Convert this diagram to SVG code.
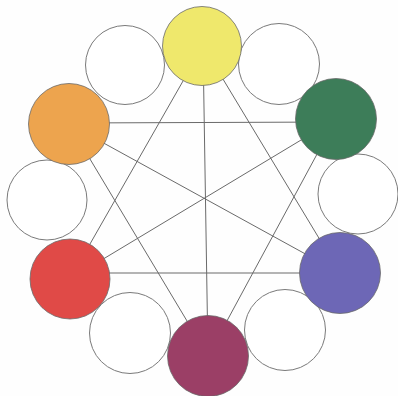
<svg xmlns="http://www.w3.org/2000/svg" width="398" height="396" viewBox="0 0 398 396">
<style>
.ln{stroke:#6a6a6a;stroke-width:1;fill:none}
.w{fill:#ffffff;stroke:#7a7a7a;stroke-width:1}
.c{stroke:#6a6a6a;stroke-width:0.8}
</style>
<rect width="398" height="396" fill="#fefefe"/>
<g id="connectors">
<line class="ln" x1="203" y1="46" x2="208" y2="356"/>
<line class="ln" x1="203" y1="46" x2="70" y2="279"/>
<line class="ln" x1="203" y1="46" x2="340" y2="273"/>
<line class="ln" x1="69" y1="123" x2="336" y2="122"/>
<line class="ln" x1="69" y1="124" x2="340" y2="273"/>
<line class="ln" x1="69" y1="124" x2="208" y2="356"/>
<line class="ln" x1="336" y1="119" x2="70" y2="279"/>
<line class="ln" x1="336" y1="119" x2="208" y2="356"/>
<line class="ln" x1="70" y1="273" x2="340" y2="273"/>
</g>
<g id="white-top-left"><circle class="w" cx="125" cy="65" r="39.5"/></g>
<g id="white-top-right"><circle class="w" cx="279" cy="64" r="40.5"/></g>
<g id="white-left"><circle class="w" cx="47" cy="200" r="40"/></g>
<g id="white-right"><circle class="w" cx="358" cy="194" r="40"/></g>
<g id="white-bottom-left"><circle class="w" cx="130" cy="333" r="40.5"/></g>
<g id="white-bottom-right"><circle class="w" cx="285" cy="330" r="40.5"/></g>
<g id="yellow"><circle class="c" cx="202" cy="46" r="39.5" fill="#efe86c"/></g>
<g id="green"><circle class="c" cx="336" cy="119" r="40.5" fill="#3d7d59"/></g>
<g id="orange"><circle class="c" cx="69" cy="124" r="40.5" fill="#eda44e"/></g>
<g id="red"><circle class="c" cx="70" cy="279" r="40" fill="#e04a47"/></g>
<g id="blue"><circle class="c" cx="340" cy="273" r="40.5" fill="#6d67b6"/></g>
<g id="purple"><circle class="c" cx="208" cy="356" r="40.5" fill="#9b3f66"/></g>
</svg>
